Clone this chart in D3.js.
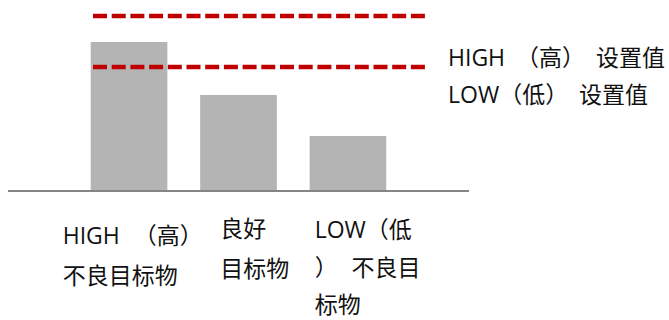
<!DOCTYPE html>
<html>
<head>
<meta charset="utf-8">
<script src="https://cdn.jsdelivr.net/npm/d3@7"></script>
<style>
  html, body { margin: 0; padding: 0; background: #fff; }
  svg text { font-family: "Open Sans", "Noto Sans CJK SC", sans-serif; fill: #111; }
</style>
</head>
<body>
<div id="chart"></div>
<script>
// categories (wrapped the way the original text boxes wrap)
var categories = ["high", "good", "low"];
var categoryLines = [
    ["HIGH （高）", "不良目标物"],
    ["良好", "目标物"],
    ["LOW（低", "） 不良目", "标物"]
];
var values = [148, 95, 54];

// set values shown as dashed lines
var limitNames = ["HIGH （高） 设置值", "LOW（低） 设置值"];
var limitValues = [174, 123];

var width = 669;
var height = 320;

var svg = d3.select("#chart").append("svg")
    .attr("width", width)
    .attr("height", height);

var x = d3.scaleBand()
    .domain(categories)
    .range([36, 441])
    .paddingInner(0.3)
    .paddingOuter(0.5);

var y = d3.scaleLinear()
    .domain([0, 180])
    .range([190, 10]);

// bars
svg.append("g").selectAll("rect")
    .data(values)
    .enter().append("rect")
    .attr("x", function (d, i) { return x(categories[i]); })
    .attr("y", function (d) { return y(d); })
    .attr("width", x.bandwidth())
    .attr("height", function (d) { return y(0) - y(d); })
    .attr("fill", "#b4b4b4");

// baseline
svg.append("line")
    .attr("x1", 8).attr("x2", 469)
    .attr("y1", y(0) + 1).attr("y2", y(0) + 1)
    .attr("stroke", "#858585")
    .attr("stroke-width", 2);

// dashed set-value lines
svg.append("g").selectAll("line")
    .data(limitValues)
    .enter().append("line")
    .attr("x1", 93).attr("x2", 426)
    .attr("y1", function (d) { return y(d); })
    .attr("y2", function (d) { return y(d); })
    .attr("stroke", "#c00000")
    .attr("stroke-width", 4.5)
    .attr("stroke-dasharray", "14,4.7");

// legend text to the right
svg.append("g").selectAll("text")
    .data(limitNames)
    .enter().append("text")
    .attr("x", 448)
    .attr("y", function (d, i) { return 66 + i * 37; })
    .attr("font-size", 23)
    .attr("word-spacing", 5)
    .text(function (d) { return d; });

// category labels (left-aligned text boxes under each bar)
var labelOffset = [-28, 20, 5];
var labelTop = [244, 237, 238];
var labelStep = [40, 40, 37.5];

var labels = svg.append("g").selectAll("text")
    .data(categoryLines)
    .enter().append("text")
    .attr("font-size", 23)
    .attr("word-spacing", 8);

labels.selectAll("tspan")
    .data(function (d, i) { return d.map(function (s) { return { s: s, i: i }; }); })
    .enter().append("tspan")
    .attr("x", function (d) { return x(categories[d.i]) + labelOffset[d.i]; })
    .attr("y", function (d, j) { return labelTop[d.i] + j * labelStep[d.i]; })
    .text(function (d) { return d.s; });
</script>
</body>
</html>
